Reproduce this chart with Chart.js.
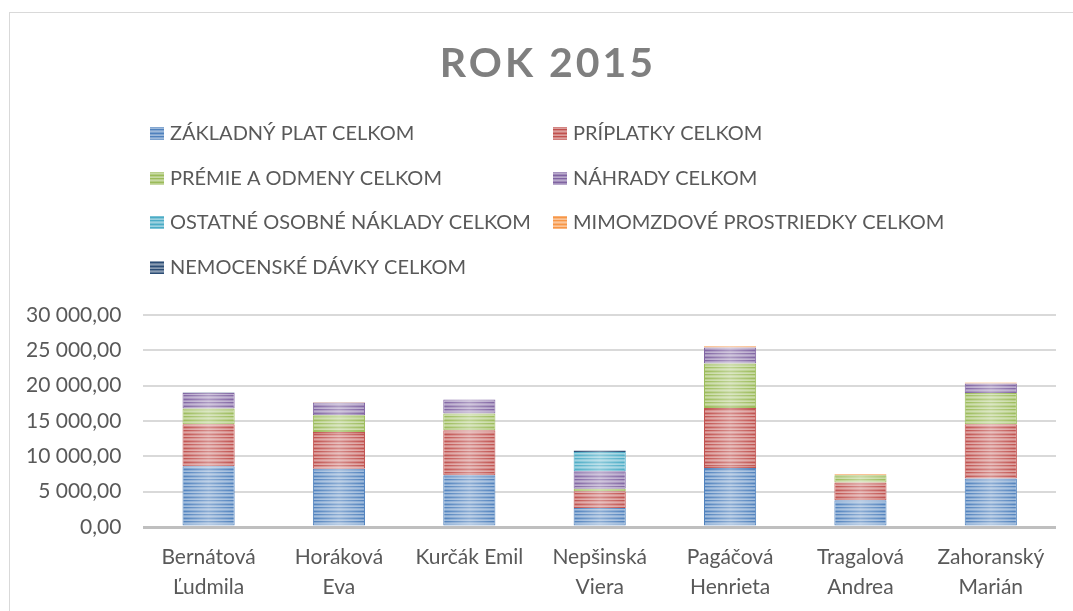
<!DOCTYPE html>
<html>
<head>
<meta charset="utf-8">
<script src="https://cdn.jsdelivr.net/npm/chart.js@4/dist/chart.umd.min.js"></script>
<style>
  html, body { margin: 0; padding: 0; background: #fff; }
  #wrap { position: relative; width: 1073px; height: 611px; overflow: hidden; }
  #frame { position: absolute; left: 9px; top: 12px; width: 1200px; height: 700px;
           border: 1px solid #d9d9d9; box-sizing: border-box; }
  canvas { position: absolute; left: 0; top: 0; }
</style>
</head>
<body>
<div id="wrap">
  <div id="frame"></div>
  <canvas id="graf" width="1073" height="611"></canvas>
</div>
<script>
// mená zamestnancov (os x)
const mena = [
    ['Bernátová', 'Ľudmila'],
    ['Horáková', 'Eva'],
    'Kurčák Emil',
    ['Nepšinská', 'Viera'],
    ['Pagáčová', 'Henrieta'],
    ['Tragalová', 'Andrea'],
    ['Zahoranský', 'Marián']
];

// hodnoty podľa položiek (odčítané z grafu)
const zakladnyPlat  = [8590, 8260, 7320, 2690, 8350, 3780, 6850];
const priplatky     = [5940, 5190, 6360, 2360, 8490, 2500, 7680];
const premie        = [2230, 2360, 2370,  380, 6280, 1040, 4430];
const nahrady       = [2200, 1800, 2000, 2450, 2270,    0, 1330];
const ostatne       = [   0,    0,    0, 2730,    0,    0,    0];
const mimomzdove    = [   0,   80,    0,    0,  180,  140,  150];
const nemocenske    = [  60,    0,    0,  200,    0,    0,    0];

const nazvy = [
    'ZÁKLADNÝ PLAT CELKOM',
    'PRÍPLATKY CELKOM',
    'PRÉMIE A ODMENY CELKOM',
    'NÁHRADY CELKOM',
    'OSTATNÉ OSOBNÉ NÁKLADY CELKOM',
    'MIMOMZDOVÉ PROSTRIEDKY CELKOM',
    'NEMOCENSKÉ DÁVKY CELKOM'
];
const farby = ['#4F81BD', '#C0504D', '#9BBB59', '#8064A2', '#4BACC6', '#F79646', '#2C4D75'];

const yTicky = [0, 5000, 10000, 15000, 20000, 25000, 30000];

const pismo = 'Lato, "Noto Sans", sans-serif';

function zmiesaj(hex, t) {
    const r = parseInt(hex.substr(1, 2), 16);
    const g = parseInt(hex.substr(3, 2), 16);
    const b = parseInt(hex.substr(5, 2), 16);
    const m = c => Math.round(c + (255 - c) * t);
    return 'rgb(' + m(r) + ',' + m(g) + ',' + m(b) + ')';
}

// vodorovné pruhy ako v Exceli
function pruhy(hex) {
    const c = document.createElement('canvas');
    c.width = 4; c.height = 7;
    const x = c.getContext('2d');
    const riadky = [0, 0.3, 0.45, 0, 0.3, 0.45, 0.25];
    riadky.forEach((t, i) => {
        x.fillStyle = zmiesaj(hex, t);
        x.fillRect(0, i, 4, 1);
    });
    return x.createPattern(c, 'repeat');
}

function formatuj(v) {
    const s = Math.round(v).toString().replace(/\B(?=(\d{3})+(?!\d))/g, ' ');
    return s + ',00';
}

const stlpce = [zakladnyPlat, priplatky, premie, nahrady, ostatne, mimomzdove, nemocenske];

const ctx = document.getElementById('graf').getContext('2d');
const vzory = farby.map(pruhy);

// nadpis, legenda a lesk stĺpcov
const dekoracia = {
    id: 'dekoracia',
    afterDatasetsDraw(chart) {
        const c = chart.ctx;
        chart.data.datasets.forEach((ds, i) => {
            chart.getDatasetMeta(i).data.forEach(el => {
                const h = Math.abs(el.base - el.y);
                if (h < 1) return;
                const l = el.x - el.width / 2;
                const gr = c.createLinearGradient(l, 0, l + el.width, 0);
                gr.addColorStop(0, 'rgba(255,255,255,0)');
                gr.addColorStop(0.5, 'rgba(255,255,255,0.35)');
                gr.addColorStop(1, 'rgba(255,255,255,0)');
                c.save();
                c.fillStyle = gr;
                c.fillRect(l, Math.min(el.y, el.base), el.width, h);
                c.restore();
            });
        });
    },
    afterDraw(chart) {
        const c = chart.ctx;
        c.save();
        c.fillStyle = '#7F7F7F';
        c.font = 'bold 41px ' + pismo;
        c.letterSpacing = '3px';
        c.textAlign = 'center';
        c.textBaseline = 'middle';
        c.fillText('ROK 2015', 548, 64);
        c.letterSpacing = '0px';

        const stlpX = [150, 553];
        const riadokY = [133, 178, 222, 267];
        c.font = '20px ' + pismo;
        c.textAlign = 'left';
        nazvy.forEach((n, i) => {
            const x = stlpX[i % 2];
            const y = riadokY[Math.floor(i / 2)];
            c.fillStyle = vzory[i];
            c.fillRect(x, y - 6, 14, 13);
            c.fillStyle = '#595959';
            c.fillText(n, x + 20, y + 1);
        });
        c.restore();
    }
};

new Chart(ctx, {
    type: 'bar',
    data: {
        labels: mena,
        datasets: stlpce.map((d, i) => ({
            label: nazvy[i],
            data: d,
            backgroundColor: vzory[i],
            borderColor: farby[i],
            borderWidth: 1,
            borderSkipped: false,
            categoryPercentage: 1,
            barPercentage: 0.40
        }))
    },
    options: {
        responsive: false,
        animation: false,
        layout: { padding: { top: 315, left: 4, right: 17, bottom: 8 } },
        plugins: {
            legend: { display: false },
            title: { display: false },
            tooltip: { enabled: false }
        },
        scales: {
            x: {
                stacked: true,
                grid: { display: false, drawTicks: false },
                border: { display: false },
                afterFit(axis) { axis.height = 76; },
                ticks: {
                    color: '#595959',
                    font: { family: pismo, size: 21, lineHeight: 1.43 },
                    padding: 15,
                    maxRotation: 0,
                    autoSkip: false
                }
            },
            y: {
                stacked: true,
                min: 0,
                max: 30000,
                afterBuildTicks(axis) {
                    axis.ticks = yTicky.map(v => ({ value: v }));
                },
                grid: {
                    drawTicks: false,
                    color: c => c.tick && c.tick.value === 0 ? '#bfbfbf' : '#d9d9d9',
                    lineWidth: c => c.tick && c.tick.value === 0 ? 3 : 2
                },
                border: { display: false },
                ticks: {
                    color: '#595959',
                    font: { family: pismo, size: 21 },
                    padding: 22,
                    callback: v => formatuj(v)
                }
            }
        }
    },
    plugins: [dekoracia]
});
</script>
</body>
</html>
